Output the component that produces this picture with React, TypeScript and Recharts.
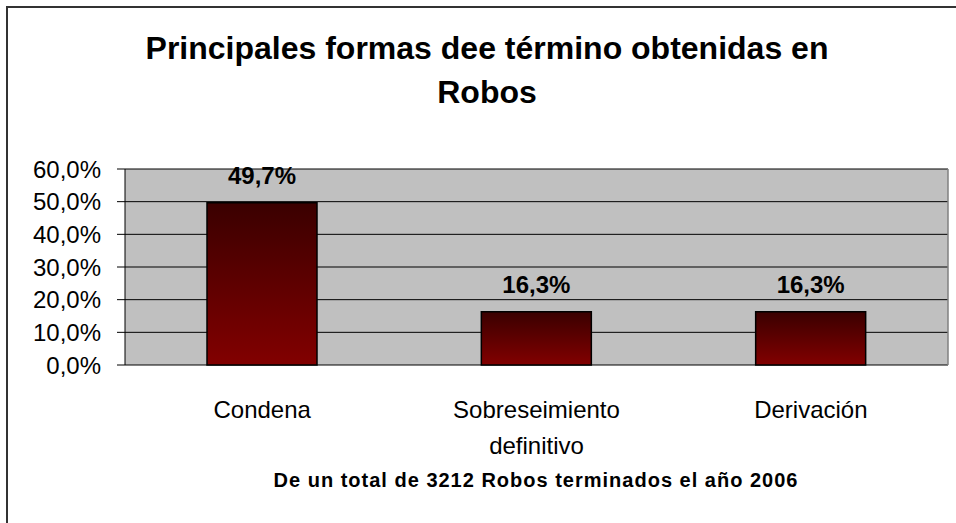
import { Bar, BarChart, CartesianGrid, LabelList, XAxis, YAxis } from 'recharts';

const categories = ['Condena', 'Sobreseimiento\ndefinitivo', 'Derivación'];
const shares = [49.7, 16.3, 16.3];
const yTicks = [0, 10, 20, 30, 40, 50, 60];
const boundaryTicks = [0, 1, 2, 3];

const title = ['Principales formas dee término obtenidas en', 'Robos'];
const subtitle = 'De un total de 3212 Robos terminados el año 2006';

const data = categories.map((name, i) => ({ name, value: shares[i] }));

const FONT = '"Liberation Sans", Arial, sans-serif';
const pct = (v: number) => `${v.toFixed(1).replace('.', ',')}%`;

function CategoryTick({ x, y, payload }: any) {
  const lines = String(payload.value).split('\n');
  return (
    <text x={x} y={y} textAnchor="middle" fontFamily={FONT} fontSize={24} fill="#000">
      {lines.map((l, i) => (
        <tspan key={i} x={x} dy={i === 0 ? 45 : 36}>
          {l}
        </tspan>
      ))}
    </text>
  );
}

export default function App() {
  return (
    <div style={{ position: 'absolute', left: 0, top: 0, width: 956, height: 523, overflow: 'hidden', background: '#fff' }}>
      <div
        style={{
          position: 'absolute',
          left: 6,
          top: 6,
          width: 980,
          height: 560,
          border: '2px solid #333',
        }}
      />
      <div
        style={{
          position: 'absolute',
          left: 0,
          width: 974,
          top: 26,
          textAlign: 'center',
          fontFamily: FONT,
          fontWeight: 'bold',
          fontSize: 32,
          lineHeight: '44px',
        }}
      >
        {title[0]}
        <br />
        {title[1]}
      </div>
      <BarChart
        width={956}
        height={523}
        data={data}
        margin={{ top: 169, right: 8, left: 15, bottom: 0 }}
        style={{ position: 'absolute', left: 0, top: 0 }}
      >
        <defs>
          <linearGradient id="barFill" x1="0" y1="0" x2="0" y2="1">
            <stop offset="0%" stopColor="#3a0000" />
            <stop offset="100%" stopColor="#820000" />
          </linearGradient>
        </defs>
        <CartesianGrid vertical={false} fill="#c0c0c0" stroke="#000" strokeWidth={1} />
        <CartesianGrid
          horizontal={false}
          stroke="#808080"
          strokeWidth={1.5}
          verticalCoordinatesGenerator={({ offset }: any) => [offset.left + offset.width]}
        />
        <XAxis
          xAxisId="edges"
          type="number"
          domain={[0, 3]}
          ticks={boundaryTicks}
          height={0}
          tickSize={8}
          tickFormatter={() => ''}
          stroke="#000"
        />
        <XAxis
          xAxisId="cat"
          dataKey="name"
          height={158}
          axisLine={false}
          tickLine={false}
          tick={<CategoryTick />}
          interval={0}
        />
        <YAxis
          width={110}
          domain={[0, 60]}
          ticks={yTicks}
          interval={0}
          tickFormatter={pct}
          tickSize={8}
          tickMargin={16}
          stroke="#000"
          tick={{ fontFamily: FONT, fontSize: 24, fill: '#000' }}
        />
        <Bar
          xAxisId="cat"
          dataKey="value"
          fill="url(#barFill)"
          stroke="#000"
          strokeWidth={1.5}
          barSize={110}
          isAnimationActive={false}
        >
          <LabelList
            dataKey="value"
            position="top"
            offset={19}
            formatter={(v: any) => pct(Number(v))}
            style={{ fontFamily: FONT, fontSize: 24, fontWeight: 'bold', fill: '#000' }}
          />
        </Bar>
      </BarChart>
      <div
        style={{
          position: 'absolute',
          left: 236,
          width: 600,
          top: 469,
          textAlign: 'center',
          fontFamily: FONT,
          fontWeight: 'bold',
          fontSize: 20,
          letterSpacing: 1,
          whiteSpace: 'nowrap',
        }}
      >
        {subtitle}
      </div>
    </div>
  );
}
